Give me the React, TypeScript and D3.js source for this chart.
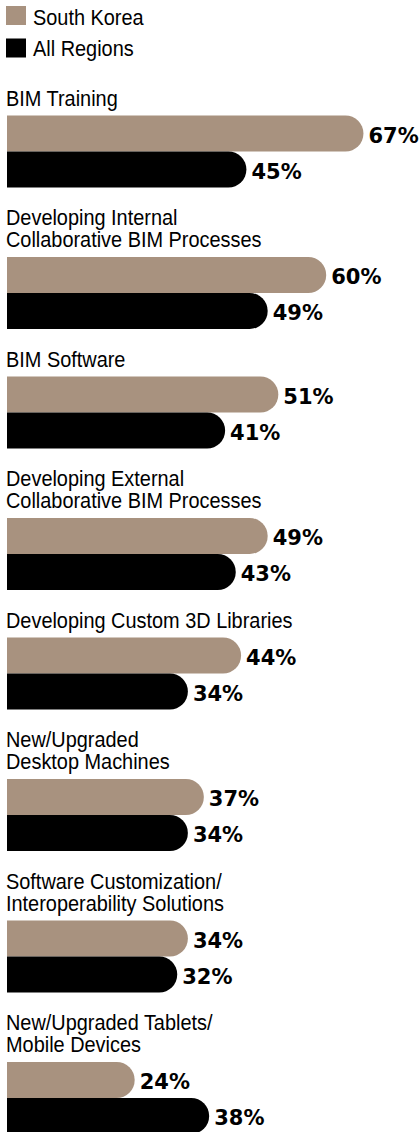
import React from 'react';
import * as d3 from 'd3';

const categories = [
  'BIM Training',
  'Developing Internal\nCollaborative BIM Processes',
  'BIM Software',
  'Developing External\nCollaborative BIM Processes',
  'Developing Custom 3D Libraries',
  'New/Upgraded\nDesktop Machines',
  'Software Customization/\nInteroperability Solutions',
  'New/Upgraded Tablets/\nMobile Devices',
];
const southKorea = [67, 60, 51, 49, 44, 37, 34, 24];
const allRegions = [45, 49, 41, 43, 34, 34, 32, 38];
const seriesNames = ['South Korea', 'All Regions'];
const seriesColors = ['#a8927f', '#000000'];

const W = 419;
const H = 1132;
const LABEL_FONT = '"Liberation Sans", Arial, sans-serif';
const VALUE_FONT = '"DejaVu Sans", sans-serif';
const LABEL_SIZE = 22;
const LABEL_SQUEEZE = 0.905; // fake a condensed face

// right end rounded, left end square
const barPath = (x0: number, x1: number, y: number, h: number) => {
  const r = h / 2;
  const xe = Math.max(x0, x1 - r);
  return `M${x0},${y}H${xe}A${r},${r} 0 0 1 ${xe},${y + h}H${x0}Z`;
};

const App = () => {
  const x = d3.scaleLinear().domain([0, 100]).range([7, 539]);
  const inner = d3.scaleBand<string>().domain(seriesNames).range([0, 72]).padding(0);

  // vertical layout of each group: label lines, then two bars
  const lineH = 22;
  let cursor = 105.5;
  const groups = categories.map((c, i) => {
    const lines = c.split('\n');
    const baselines = lines.map((_, j) => cursor + j * lineH);
    const top = baselines[baselines.length - 1] + 10;
    cursor = top + 72 + 37.5;
    return { lines, baselines, top, values: [southKorea[i], allRegions[i]] };
  });

  return (
    <svg width={W} height={H} style={{ position: 'absolute', left: 0, top: 0, background: '#fff' }}>
      {/* legend */}
      {seriesNames.map((s, i) => (
        <g key={s}>
          <rect x={6} y={6 + i * 32.5} width={20} height={19} fill={seriesColors[i]} />
          <g transform={`translate(33,${25 + i * 31}) scale(${LABEL_SQUEEZE},1)`}>
            <text fontFamily={LABEL_FONT} fontSize={LABEL_SIZE} fill="#000">{s}</text>
          </g>
        </g>
      ))}

      {groups.map((g, i) => (
        <g key={i}>
          {g.lines.map((l, j) => (
            <g key={j} transform={`translate(6,${g.baselines[j]}) scale(${LABEL_SQUEEZE},1)`}>
              <text fontFamily={LABEL_FONT} fontSize={LABEL_SIZE} fill="#000">{l}</text>
            </g>
          ))}
          {g.values.map((v, k) => {
            const y = g.top + (inner(seriesNames[k]) as number);
            const h = inner.bandwidth();
            return (
              <g key={k}>
                <path d={barPath(x(0), x(v), y, h)} fill={seriesColors[k]} />
                <text
                  x={x(v) + 5}
                  y={y + 27}
                  fontFamily={VALUE_FONT}
                  fontWeight="bold"
                  fontSize={21}
                  fill="#000"
                >
                  {v}%
                </text>
              </g>
            );
          })}
        </g>
      ))}
    </svg>
  );
};

export default App;
